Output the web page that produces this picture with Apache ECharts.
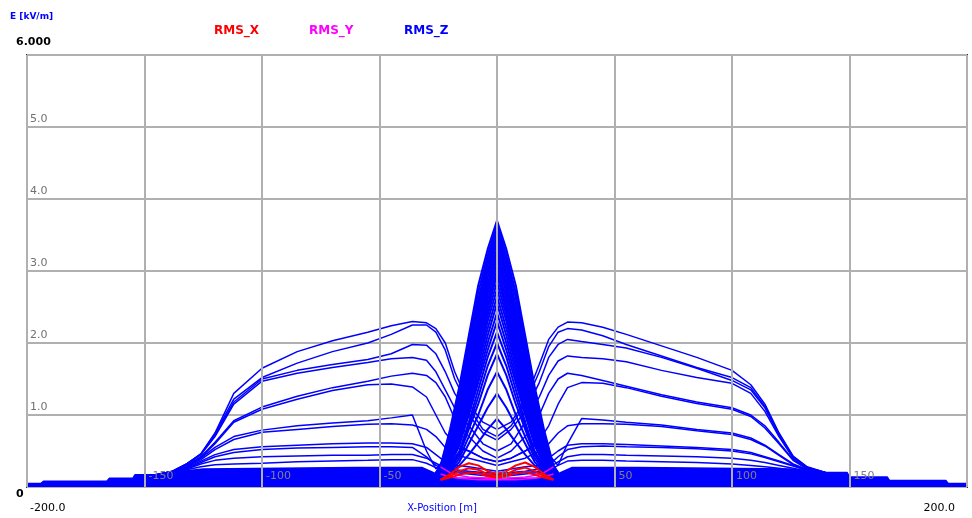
<!DOCTYPE html>
<html>
<head>
<meta charset="utf-8">
<script src="https://cdn.jsdelivr.net/npm/echarts@6/dist/echarts.min.js"></script>
<style>html,body{margin:0;padding:0;background:#fff}#c{width:972px;height:518px}</style>
</head>
<body>
<div id="c"></div>
<script>
// ---------- data ----------
const X_TICKS = [-200, -150, -100, -50, 0, 50, 100, 150, 200];
const Y_TICKS = [0, 1, 2, 3, 4, 5, 6];

// base envelope (dense bundle of low curves)
const BASE_X = [-200,-194,-193,-166,-165,-155,-154,-138,-134,-125,-60,-32,-27,-24,24,27,32,60,125,132,138,149,150,166,167,191,192,200];
const BASE_Y = [0.05,0.05,0.08,0.08,0.12,0.12,0.17,0.17,0.22,0.25,0.27,0.27,0.2,0.12,0.12,0.2,0.27,0.27,0.25,0.22,0.2,0.2,0.14,0.14,0.09,0.09,0.05,0.05];

// RMS_Z plateau curves
const PLAT_X = [-145,-138,-132,-126,-120,-112,-100,-85,-70,-55,-45,-36,-30,-26,-22,-18,-12,-6,0,6,12,18,22,26,30,36,45,55,70,85,100,108,114,120,126,132,140];
const Z_P1  = [0.17,0.22,0.32,0.46,0.75,1.3,1.65,1.88,2.03,2.15,2.24,2.30,2.28,2.2,2.0,1.6,1.15,0.9,0.8,0.9,1.2,1.7,2.05,2.22,2.29,2.28,2.22,2.12,1.96,1.8,1.62,1.42,1.15,0.75,0.43,0.28,0.2];
const Z_P2  = [0.17,0.22,0.32,0.46,0.74,1.22,1.52,1.72,1.88,2.0,2.12,2.25,2.25,2.15,1.9,1.5,1.1,0.8,0.7,0.85,1.15,1.6,1.95,2.15,2.2,2.18,2.1,1.98,1.82,1.66,1.52,1.38,1.12,0.74,0.42,0.27,0.2];
const Z_P3  = [0.17,0.22,0.32,0.45,0.72,1.18,1.5,1.62,1.7,1.77,1.85,1.98,1.97,1.85,1.6,1.3,1.0,0.75,0.65,0.8,1.05,1.45,1.8,1.98,2.05,2.02,1.98,1.93,1.8,1.65,1.48,1.35,1.1,0.72,0.41,0.27,0.2];
const Z_P4  = [0.17,0.22,0.32,0.45,0.7,1.15,1.47,1.58,1.66,1.73,1.78,1.8,1.76,1.6,1.35,1.1,0.85,0.6,0.5,0.6,0.9,1.25,1.55,1.75,1.82,1.8,1.78,1.74,1.62,1.52,1.44,1.3,1.05,0.7,0.4,0.27,0.2];
const Z_P5  = [0.17,0.21,0.3,0.42,0.62,0.92,1.11,1.26,1.38,1.47,1.54,1.58,1.55,1.45,1.25,0.95,0.7,0.5,0.4,0.5,0.7,1.0,1.3,1.5,1.58,1.55,1.48,1.4,1.28,1.18,1.1,1.0,0.85,0.62,0.38,0.26,0.19];
const Z_P6  = [0.17,0.21,0.3,0.41,0.6,0.9,1.08,1.22,1.34,1.42,1.43,1.39,1.25,1.0,0.75,0.6,0.5,0.4,0.35,0.4,0.5,0.65,0.85,1.15,1.38,1.45,1.44,1.38,1.26,1.16,1.08,0.98,0.82,0.6,0.37,0.25,0.19];
const Z_P7  = [0.16,0.2,0.28,0.4,0.55,0.7,0.79,0.85,0.89,0.92,0.96,1.0,0.5,0.25,0.4,0.55,0.5,0.4,0.35,0.4,0.5,0.6,0.45,0.3,0.6,0.95,0.93,0.9,0.86,0.8,0.75,0.68,0.58,0.45,0.32,0.24,0.18];
const Z_P8  = [0.16,0.2,0.28,0.38,0.52,0.66,0.76,0.8,0.84,0.87,0.88,0.86,0.8,0.7,0.55,0.45,0.4,0.35,0.3,0.35,0.4,0.5,0.6,0.75,0.85,0.88,0.88,0.87,0.84,0.78,0.73,0.66,0.57,0.44,0.31,0.24,0.18];
const Z_P9  = [0.16,0.2,0.26,0.34,0.42,0.48,0.52,0.54,0.55,0.56,0.56,0.55,0.42,0.3,0.25,0.24,0.22,0.2,0.19,0.2,0.22,0.25,0.3,0.42,0.52,0.56,0.57,0.56,0.55,0.53,0.5,0.46,0.41,0.35,0.29,0.23,0.18];
const Z_P10 = [0.16,0.2,0.27,0.36,0.45,0.52,0.56,0.58,0.6,0.61,0.61,0.6,0.55,0.45,0.35,0.3,0.28,0.25,0.22,0.25,0.28,0.3,0.4,0.5,0.58,0.6,0.6,0.59,0.57,0.55,0.52,0.48,0.42,0.36,0.3,0.23,0.18];
const Z_P11 = [0.16,0.19,0.25,0.32,0.37,0.4,0.42,0.43,0.44,0.44,0.45,0.45,0.4,0.33,0.26,0.22,0.2,0.18,0.17,0.18,0.2,0.22,0.27,0.35,0.42,0.45,0.45,0.44,0.43,0.42,0.4,0.37,0.34,0.3,0.26,0.22,0.18];
const Z_P12 = [0.16,0.19,0.24,0.28,0.31,0.32,0.33,0.35,0.36,0.37,0.38,0.38,0.33,0.27,0.22,0.2,0.18,0.16,0.15,0.16,0.18,0.2,0.23,0.3,0.36,0.37,0.37,0.36,0.35,0.34,0.32,0.3,0.28,0.26,0.23,0.2,0.17];

// RMS_Z centre peaks
const PEAK_X = [-27,-24,-20,-16,-12,-8,-4,0,4,8,12,16,20,24,27];
const Z_K1  = [0.15,0.3,0.8,1.4,2.1,2.8,3.3,3.7,3.3,2.8,2.1,1.4,0.8,0.3,0.15];
const Z_K2  = [0.15,0.29,0.75,1.35,2.05,2.7,3.22,3.66,3.22,2.7,2.05,1.35,0.75,0.29,0.15];
const Z_K3  = [0.15,0.28,0.7,1.3,2.0,2.6,3.15,3.6,3.15,2.62,2.0,1.3,0.7,0.28,0.15];
const Z_K4  = [0.14,0.26,0.66,1.25,1.92,2.52,3.08,3.55,3.08,2.52,1.92,1.25,0.66,0.26,0.14];
const Z_K5  = [0.14,0.25,0.62,1.2,1.85,2.45,3.0,3.5,3.0,2.45,1.85,1.2,0.62,0.25,0.14];
const Z_K6  = [0.14,0.23,0.58,1.15,1.78,2.38,2.95,3.45,2.95,2.38,1.78,1.15,0.58,0.23,0.14];
const Z_K7  = [0.14,0.22,0.55,1.1,1.7,2.3,2.9,3.4,2.9,2.3,1.7,1.1,0.55,0.22,0.14];
const Z_K8  = [0.13,0.21,0.52,1.04,1.62,2.22,2.82,3.32,2.82,2.22,1.62,1.04,0.52,0.21,0.13];
const Z_K9  = [0.13,0.2,0.5,0.98,1.55,2.15,2.75,3.25,2.75,2.15,1.55,0.98,0.5,0.2,0.13];
const Z_K10 = [0.13,0.2,0.48,0.93,1.48,2.08,2.68,3.18,2.68,2.08,1.48,0.93,0.48,0.2,0.13];
const Z_K11 = [0.13,0.2,0.45,0.88,1.42,2.0,2.6,3.1,2.6,2.0,1.42,0.88,0.45,0.2,0.13];
const Z_K12 = [0.12,0.19,0.42,0.84,1.36,1.95,2.52,3.02,2.52,1.95,1.36,0.84,0.42,0.19,0.12];
const Z_K13 = [0.12,0.18,0.4,0.8,1.3,1.9,2.45,2.95,2.45,1.9,1.3,0.8,0.4,0.18,0.12];
const Z_K14 = [0.12,0.17,0.38,0.76,1.25,1.82,2.38,2.85,2.38,1.82,1.25,0.76,0.38,0.17,0.12];
const Z_K15 = [0.12,0.17,0.36,0.72,1.2,1.75,2.3,2.75,2.3,1.75,1.2,0.72,0.36,0.17,0.12];
const Z_K16 = [0.12,0.16,0.34,0.68,1.15,1.68,2.2,2.65,2.2,1.68,1.15,0.68,0.34,0.16,0.12];
const Z_K17 = [0.12,0.16,0.32,0.65,1.1,1.6,2.1,2.55,2.1,1.6,1.1,0.65,0.32,0.16,0.12];
const Z_K18 = [0.12,0.15,0.31,0.62,1.05,1.52,2.0,2.42,2.0,1.52,1.05,0.62,0.31,0.15,0.12];
const Z_K19 = [0.12,0.15,0.3,0.58,1.0,1.45,1.9,2.3,1.9,1.45,1.0,0.58,0.3,0.15,0.12];
const Z_K20 = [0.12,0.15,0.28,0.5,0.9,1.35,1.8,2.15,1.8,1.35,0.9,0.5,0.28,0.15,0.12];
const Z_K21 = [0.12,0.14,0.26,0.48,0.85,1.25,1.68,2.0,1.68,1.25,0.85,0.48,0.26,0.14,0.12];
const Z_K22 = [0.12,0.14,0.25,0.45,0.8,1.15,1.55,1.85,1.55,1.15,0.8,0.45,0.25,0.14,0.12];
const Z_K23 = [0.12,0.14,0.22,0.4,0.7,1.0,1.35,1.6,1.35,1.0,0.7,0.4,0.22,0.14,0.12];
const Z_K24 = [0.12,0.13,0.2,0.35,0.6,0.85,1.1,1.3,1.1,0.85,0.6,0.35,0.2,0.13,0.12];
const Z_K25 = [0.12,0.13,0.18,0.3,0.45,0.62,0.8,0.95,0.8,0.62,0.45,0.3,0.18,0.13,0.12];

// RMS_X and RMS_Y (small centre bumps)
const XY_X = [-24,-20,-16,-12,-8,-4,0,4,8,12,16,20,24];
const X_R1 = [0.1,0.18,0.28,0.33,0.3,0.22,0.18,0.22,0.3,0.34,0.28,0.18,0.1];
const X_R2 = [0.1,0.15,0.22,0.26,0.24,0.18,0.15,0.18,0.24,0.27,0.22,0.15,0.1];
const X_R3 = [0.1,0.13,0.17,0.2,0.19,0.15,0.13,0.15,0.19,0.21,0.17,0.13,0.1];
const Y_M1 = [0.28,0.2,0.16,0.14,0.13,0.12,0.12,0.12,0.13,0.14,0.16,0.2,0.28];
const Y_M2 = [0.18,0.14,0.12,0.11,0.1,0.1,0.1,0.1,0.1,0.11,0.12,0.14,0.18];

// ---------- chart ----------
const BLUE = '#0000ff', RED = '#ff0000', MAG = '#ff00ff';
const FONT = 'DejaVu Sans';

function line(name, xs, ys, color, width, area) {
  const s = {
    type: 'line', name: name,
    data: xs.map((x, i) => [x, ys[i]]),
    showSymbol: false, symbol: 'none', silent: true,
    lineStyle: { color: color, width: width },
    itemStyle: { color: color },
    animation: false
  };
  if (area) s.areaStyle = { color: color, opacity: 1 };
  return s;
}

const series = [];
series.push(line('RMS_Z', BASE_X, BASE_Y, BLUE, 1.5, true));
[Z_P1,Z_P2,Z_P3,Z_P4,Z_P5,Z_P6,Z_P7,Z_P8,Z_P9,Z_P10,Z_P11,Z_P12].forEach(a => series.push(line('RMS_Z', PLAT_X, a, BLUE, 1.5)));
[Z_K1,Z_K2,Z_K3,Z_K4,Z_K5,Z_K6,Z_K7,Z_K8,Z_K9,Z_K10,Z_K11,Z_K12,Z_K13,Z_K14,Z_K15,Z_K16,Z_K17,Z_K18,Z_K19,Z_K20,Z_K21,Z_K22,Z_K23,Z_K24,Z_K25]
  .forEach(a => series.push(line('RMS_Z', PEAK_X, a, BLUE, 2)));
[Y_M1, Y_M2].forEach(a => series.push(line('RMS_Y', XY_X, a, MAG, 1.5)));
[X_R1, X_R2, X_R3].forEach(a => series.push(line('RMS_X', XY_X, a, RED, 2)));

function legendFor(name, color, left) {
  return {
    data: [name], left: left, top: 25, padding: 0,
    itemWidth: 0, itemHeight: 0, itemGap: 0, selectedMode: false,
    textStyle: { color: color, fontSize: 12, fontWeight: 'bold', fontFamily: FONT }
  };
}

const Y_MAX = Y_TICKS[Y_TICKS.length - 1];
const X_MIN = X_TICKS[0], X_MAX = X_TICKS[X_TICKS.length - 1];

const chart = echarts.init(document.getElementById('c'), null, { renderer: 'canvas' });
chart.setOption({
  animation: false,
  backgroundColor: '#ffffff',
  title: {
    text: 'E [kV/m]', left: 10, top: 12, padding: 0,
    textStyle: { color: BLUE, fontSize: 9, fontWeight: 'bold', fontFamily: FONT }
  },
  legend: [legendFor('RMS_X', RED, 208), legendFor('RMS_Y', MAG, 303), legendFor('RMS_Z', BLUE, 398)],
  grid: {
    left: 27, right: 5, top: 55, bottom: 31, containLabel: false, outerBoundsMode: 'none',
    show: true, borderColor: '#333333', borderWidth: 2, backgroundColor: 'transparent'
  },
  xAxis: [{
    type: 'value', min: X_MIN, max: X_MAX, interval: 50,
    position: 'bottom',
    axisLine: { show: false }, axisTick: { show: false },
    splitLine: { show: true, lineStyle: { color: '#b0b0b0', width: 2 } },
    axisLabel: {
      inside: true, margin: 5, align: 'left', verticalAlign: 'bottom', color: '#808080', fontSize: 11, fontFamily: FONT,
      padding: [0, 0, 0, 4],
      showMinLabel: false, showMaxLabel: false,
      formatter: v => String(v)
    },
    z: 10
  }, {
    type: 'value', min: X_MIN, max: X_MAX, interval: 50,
    position: 'bottom',
    axisLine: { show: false }, axisTick: { show: false }, splitLine: { show: false },
    axisLabel: {
      margin: 16, color: '#000', fontSize: 11, fontFamily: FONT,
      alignMinLabel: 'left', alignMaxLabel: 'right',
      padding: [0, 12, 0, 3],
      formatter: v => (v === X_MIN || v === X_MAX) ? v.toFixed(1) : ''
    },
    name: 'X-Position [m]', nameLocation: 'middle', nameGap: 16, nameMoveOverlap: false,
    nameTextStyle: { color: BLUE, fontSize: 10, fontFamily: FONT, padding: [0, 110, 0, 0] }
  }],
  yAxis: [{
    type: 'value', min: Y_TICKS[0], max: Y_MAX, interval: 1,
    axisLine: { show: false }, axisTick: { show: false },
    splitLine: { show: true, lineStyle: { color: '#b0b0b0', width: 2 } },
    axisLabel: {
      inside: true, margin: 3, align: 'left', verticalAlign: 'bottom', color: '#707070',
      fontSize: 11, fontFamily: FONT, padding: [0, 0, 2, 0],
      formatter: v => (v > Y_TICKS[0] && v < Y_MAX) ? v.toFixed(1) : ''
    }
  }, {
    type: 'value', min: Y_TICKS[0], max: Y_MAX, interval: 6,
    position: 'left',
    axisLine: { show: false }, axisTick: { show: false }, splitLine: { show: false },
    axisLabel: {
      margin: 11, align: 'left', verticalAlign: 'top', color: '#000', fontSize: 11, fontWeight: 'bold', fontFamily: FONT,
      showMaxLabel: false, padding: [2, 0, 0, 0],
      formatter: v => v === 0 ? '0' : ''
    }
  }, {
    type: 'value', min: Y_TICKS[0], max: Y_MAX, interval: 6,
    position: 'left',
    axisLine: { show: false }, axisTick: { show: false }, splitLine: { show: false },
    axisLabel: {
      margin: 11, align: 'left', verticalAlign: 'bottom', color: '#000', fontSize: 11, fontWeight: 'bold', fontFamily: FONT,
      showMinLabel: false, padding: [0, 0, 7, 0],
      formatter: v => v === Y_MAX ? '6.000' : ''
    }
  }],
  series: series
});
</script>
</body>
</html>
